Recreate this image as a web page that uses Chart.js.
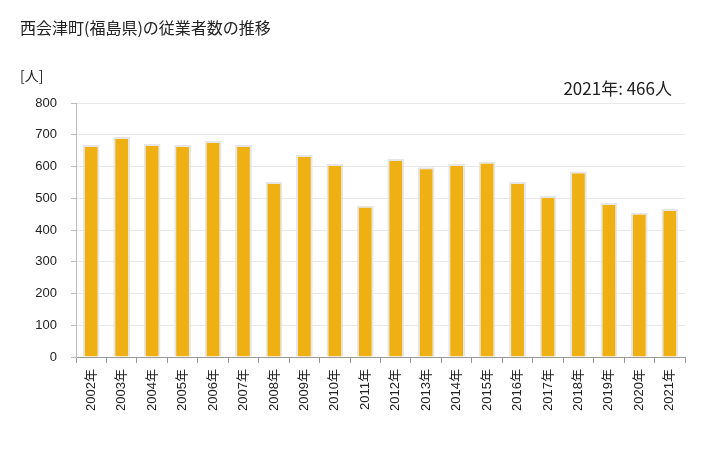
<!DOCTYPE html>
<html>
<head>
<meta charset="utf-8">
<script src="https://cdn.jsdelivr.net/npm/chart.js@4.4.0/dist/chart.umd.min.js"></script>
<style>
  body { margin: 0; background: #fff; font-family: "Noto Sans CJK JP", sans-serif; }
  #wrap { position: relative; width: 728px; height: 450px; }
  .txt { position: absolute; color: #222; white-space: nowrap; }
  #title { left: 20px; top: 15px; font-size: 16px; }
  #unit { left: 20px; top: 65px; font-size: 14px; }
  #note { right: 56px; top: 75px; font-size: 17px; }
</style>
</head>
<body>
<div id="wrap">
  <canvas id="chart" width="728" height="450"></canvas>
  <div class="txt" id="title">西会津町(福島県)の従業者数の推移</div>
  <div class="txt" id="unit">[人]</div>
  <div class="txt" id="note">2021年: 466人</div>
</div>
<script>
// 年ごとのラベル
const years = ["2002年", "2003年", "2004年", "2005年", "2006年", "2007年", "2008年", "2009年", "2010年", "2011年",
  "2012年", "2013年", "2014年", "2015年", "2016年", "2017年", "2018年", "2019年", "2020年", "2021年"];
// 従業者数
const workers = [668, 693, 671, 668, 680, 668, 551, 636, 608, 476,
  624, 598, 608, 615, 551, 507, 584, 485, 454, 466];
const yTicks = [0, 100, 200, 300, 400, 500, 600, 700, 800];

const ctx = document.getElementById("chart").getContext("2d");

new Chart(ctx, {
  type: "bar",
  data: {
    labels: years,
    datasets: [
      {
        data: workers,
        backgroundColor: "#eeb013",
        borderColor: "#e6e6e6",
        borderWidth: 2,
        borderSkipped: "bottom",
        barPercentage: 0.55,
        categoryPercentage: 1.0,
      },
    ],
  },
  options: {
    responsive: false,
    animation: false,
    layout: { padding: { left: 0, right: 43, top: 103, bottom: 0 } },
    plugins: { legend: { display: false }, tooltip: { enabled: false } },
    scales: {
      x: {
        grid: { display: true, drawOnChartArea: false, offset: true, tickLength: 6, color: "#999" },
        border: { color: "#999" },
        ticks: {
          color: "#222",
          font: { size: 13, family: "'Liberation Sans', 'Noto Sans CJK JP', sans-serif" },
          minRotation: 90,
          maxRotation: 90,
          padding: 6,
        },
        afterFit: (scale) => { scale.height = 93; },
      },
      y: {
        min: 0,
        max: 800,
        afterBuildTicks: (scale) => { scale.ticks = yTicks.map((v) => ({ value: v })); },
        grid: { color: "#e8e8e8", tickLength: 5, tickColor: "#bbb" },
        border: { color: "#bbb" },
        ticks: {
          color: "#222",
          font: { size: 13, family: "'Liberation Sans', sans-serif" },
          padding: 14,
        },
        afterFit: (scale) => { scale.width = 76; },
      },
    },
  },
});
</script>
</body>
</html>
